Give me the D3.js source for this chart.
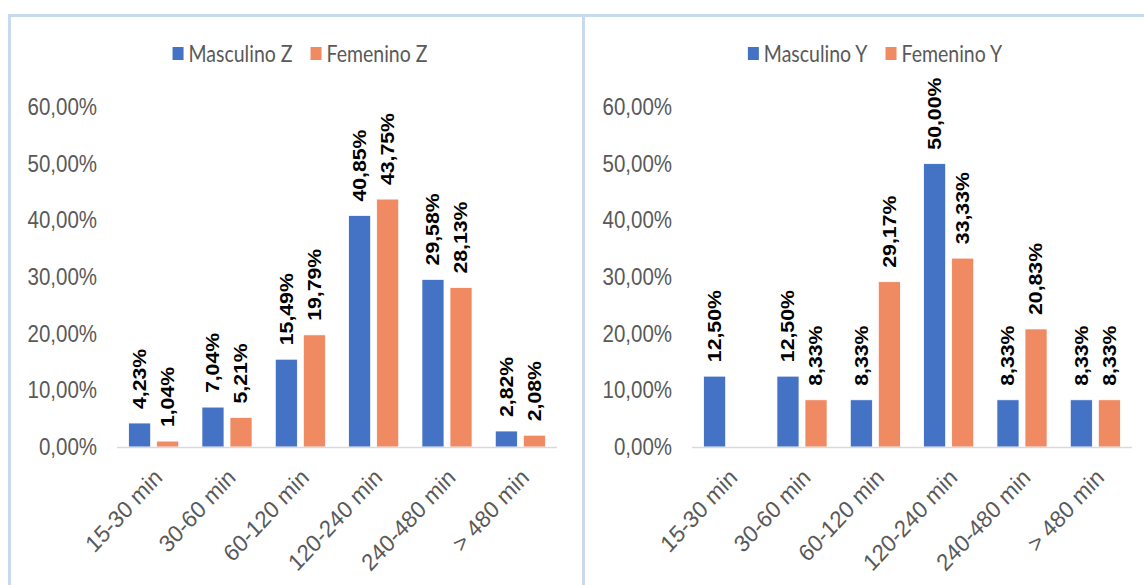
<!DOCTYPE html>
<html>
<head>
<meta charset="utf-8">
<script src="https://cdn.jsdelivr.net/npm/d3@7"></script>
<style>
  html, body { margin: 0; padding: 0; background: #ffffff; }
  svg { display: block; }
</style>
</head>
<body>
<svg id="chart" width="1144" height="585"></svg>
<script>
// Duration categories shared by both panels
const categories = ["15-30 min", "30-60 min", "60-120 min", "120-240 min", "240-480 min", "> 480 min"];

// Panel Z (percent)
const masculinoZ = [4.23, 7.04, 15.49, 40.85, 29.58, 2.82];
const femeninoZ  = [1.04, 5.21, 19.79, 43.75, 28.13, 2.08];

// Panel Y (percent); null = no bar / no label
const masculinoY = [12.50, 12.50, 8.33, 50.00, 8.33, 8.33];
const femeninoY  = [null, 8.33, 29.17, 33.33, 20.83, 8.33];

const yTicks = [0, 10, 20, 30, 40, 50, 60];

const panels = [
  { series: ["Masculino Z", "Femenino Z"], values: [masculinoZ, femeninoZ] },
  { series: ["Masculino Y", "Femenino Y"], values: [masculinoY, femeninoY] }
];

const colors = ["#4472C4", "#EF8A62"];
const borderColor = "#C9D9EE";
const textGrey = "#595959";
const SY = 1.15; // vertical stretch of the typography

const locale = d3.formatLocale({ decimal: ",", thousands: ".", grouping: [3], currency: ["", "€"] });
const pct = v => locale.format(".2f")(v) + "%";

const svg = d3.select("#chart");

// frame lines
svg.append("line").attr("x1", 8).attr("x2", 1144).attr("y1", 15.5).attr("y2", 15.5)
  .attr("stroke", borderColor).attr("stroke-width", 3);
svg.append("line").attr("x1", 9.5).attr("x2", 9.5).attr("y1", 14).attr("y2", 585)
  .attr("stroke", borderColor).attr("stroke-width", 3);
svg.append("line").attr("x1", 583.5).attr("x2", 583.5).attr("y1", 14).attr("y2", 585)
  .attr("stroke", borderColor).attr("stroke-width", 3);

const panelWidth = 575;
const plotLeft = 117, plotRight = 557, plotTop = 107, plotBottom = 447;

panels.forEach((p, pi) => {
  const g = svg.append("g").attr("transform", `translate(${pi * panelWidth},0)`);

  const y = d3.scaleLinear().domain([0, 60]).range([plotBottom, plotTop]);
  const x0 = d3.scaleBand().domain(categories).range([plotLeft, plotRight])
    .paddingInner(0.317).paddingOuter(0.1585);
  const x1 = d3.scaleBand().domain([0, 1]).range([0, x0.bandwidth()]).paddingInner(0.214);

  // y tick labels
  g.selectAll("text.ytick").data(yTicks).join("text")
    .attr("class", "ytick")
    .attr("transform", d => `translate(${plotLeft - 20},${y(d)}) scale(1,${SY})`)
    .attr("text-anchor", "end")
    .attr("dominant-baseline", "central")
    .attr("font-family", "Liberation Sans, Arial, sans-serif")
    .attr("font-size", 20.5)
    .attr("fill", textGrey)
    .text(d => locale.format(".2f")(d) + "%");

  // bars
  const groups = g.selectAll("g.cat").data(categories).join("g")
    .attr("class", "cat")
    .attr("transform", d => `translate(${x0(d)},0)`);

  groups.each(function (cat, ci) {
    const cg = d3.select(this);
    const items = p.values.map((vals, si) => ({ si, v: vals[ci] })).filter(d => d.v !== null);
    cg.selectAll("rect").data(items).join("rect")
      .attr("x", d => x1(d.si))
      .attr("width", x1.bandwidth())
      .attr("y", d => y(d.v))
      .attr("height", d => y(0) - y(d.v))
      .attr("fill", d => colors[d.si])
      .attr("stroke", "#ffffff")
      .attr("stroke-width", 0.75);
    cg.selectAll("text").data(items).join("text")
      .attr("transform", d => `translate(${x1(d.si) + x1.bandwidth() / 2},${y(d.v) - 14}) scale(1,${1.18}) rotate(-90)`)
      .attr("text-anchor", "start")
      .attr("dominant-baseline", "central")
      .attr("font-family", "Liberation Sans, Arial, sans-serif")
      .attr("font-weight", "bold")
      .attr("font-size", 18)
      .attr("fill", "#000000")
      .text(d => pct(d.v));
  });

  // x axis line
  g.append("line")
    .attr("x1", plotLeft).attr("x2", plotRight)
    .attr("y1", plotBottom + 0.5).attr("y2", plotBottom + 0.5)
    .attr("stroke", "#D9D9D9").attr("stroke-width", 1.5);

  // x category labels
  g.selectAll("text.xlab").data(categories).join("text")
    .attr("class", "xlab")
    .attr("transform", d => `translate(${x0(d) + x0.bandwidth() / 2 + 10},${plotBottom + 32}) scale(1,1.08) rotate(-45)`)
    .attr("text-anchor", "end")
    .attr("font-family", "Liberation Sans, Arial, sans-serif")
    .attr("font-size", 22)
    .attr("fill", textGrey)
    .text(d => d);

  // legend
  const legend = g.append("g");
  let lx = 0;
  p.series.forEach((name, si) => {
    const item = legend.append("g").attr("transform", `translate(${lx},0)`);
    item.append("rect").attr("x", 0).attr("y", -6).attr("width", 11).attr("height", 13)
      .attr("fill", colors[si]);
    const t = item.append("text")
      .attr("transform", `translate(16,0) scale(1,1.2)`)
      .attr("dominant-baseline", "central")
      .attr("font-family", "Lato, sans-serif")
      .attr("font-size", 19.5)
      .attr("fill", textGrey)
      .text(name);
    lx += 16 + t.node().getComputedTextLength() + 18;
  });
  const lw = lx - 18;
  legend.attr("transform", `translate(${300 - lw / 2},53)`);
});
</script>
</body>
</html>
